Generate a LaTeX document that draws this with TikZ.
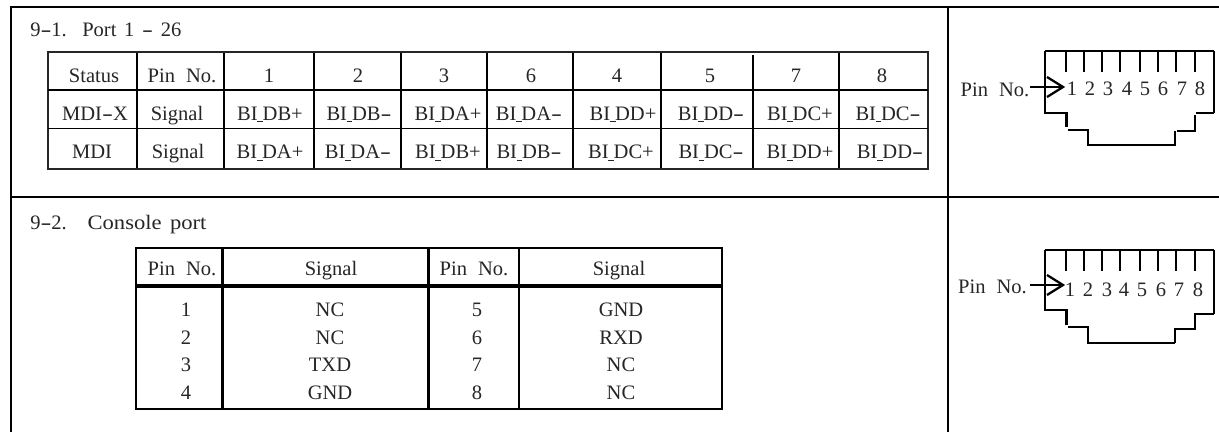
\documentclass[tikz,border=0pt]{standalone}
\usepackage{fontspec}
\setmainfont[WordSpace=1.5]{Liberation Serif}
\tikzset{
  px/.style={x=0.75pt,y=-0.75pt},
  thin line/.style={line width=0.75pt,black!85},
  med line/.style={line width=1.1pt,black},
  thick line/.style={line width=1.7pt,black},
  heavy line/.style={line width=3pt,black},
  txt/.style={inner sep=0pt,font=\fontsize{15.4pt}{17pt}\selectfont,text=black!85},
  ctxt/.style={txt,anchor=base},
  ltxt/.style={txt,anchor=base west},
}
\newcommand{\hy}{\scalebox{1.6}[1]{-}}
\newcommand{\biu}{\kern-0.02em\rule[-1.5pt]{0.28em}{0.5pt}\kern-0.02em}
\newcommand{\pn}{Pin \hspace{2.5pt}No.}
\begin{document}
\begin{tikzpicture}[px]
\useasboundingbox (0,0) rectangle (1219,432);
\fill[white] (0,0) rectangle (1219,432);
% frame
\draw[thick line,line width=1.1pt] (1219,7) -- (11,7) -- (11,432);
\draw[med line] (11,197) -- (1219,197);
\draw[thick line] (948,7) -- (948,432);
% titles
\node[ltxt] (t1) at (30,36.5) {9\hy1.\ \ Port 1 \hy\ 26};
\node[ltxt] (t2) at (30,229) {9\hy2.\ \ \hspace{4pt}\scalebox{1.1}[1]{Console port}};
% table 1
\draw[thin line,line width=0.9pt] (48,52) rectangle (928,169);
\draw[thick line] (48,90) -- (928,90);
\draw[med line] (48,128.5) -- (928,128.5);
\foreach \x in {137,314,401,487,573,661,839}{\draw[thick line] (\x,53) -- (\x,168);}
\draw[med line] (224,53) -- (224,168);
\draw[thick line] (753,55) -- (753,168);
% rows of table 1
\foreach \n/\x/\s in {a/94/Status,b/182/\pn,c/269/1,d/358/2,e/444/3,f/531/6,g/617/4,h/710/5,i/796/7,j/882/8}{
  \node[ctxt] (h\n) at (\x,82.5) {\s};}
\node[ctxt] (r1a) at (95,120) {MDI\hy X};
\node[ctxt] (r1b) at (177,120) {Signal};
\node[ctxt] (r2a) at (92,158.5) {MDI};
\node[ctxt] (r2b) at (178,158.5) {Signal};
\foreach \n/\x/\s in {c/270/DB+,d/359/DB\hy,e/448/DA+,f/529/DA\hy,g/623/DD+,h/711/DD\hy,i/800/DC+,j/888/DC\hy}{
  \node[ctxt] (p\n) at (\x,120) {BI\biu\s};}
\foreach \n/\x/\s in {c/270/DA+,d/358/DA\hy,e/448/DB+,f/529/DB\hy,g/621/DC+,h/711/DC\hy,i/800/DD+,j/890/DD\hy}{
  \node[ctxt] (q\n) at (\x,158.5) {BI\biu\s};}
% table 2
\draw[thick line] (136,248) rectangle (722,409);
\draw[heavy line] (136,286) -- (722,286);
\draw[thick line] (222.5,248) -- (222.5,409);
\draw[heavy line,line width=2.2pt] (428.5,248) -- (428.5,409);
\draw[thick line] (519,248) -- (519,409);
\node[ctxt] (a1) at (182,275) {\pn};
\node[ctxt] (a2) at (331,275) {Signal};
\node[ctxt] (a3) at (474,275) {\pn};
\node[ctxt] (a4) at (619,275) {Signal};
\foreach \n/\y/\a/\b/\c/\d in {1/316.5/1/NC/5/GND,2/344/2/NC/6/RXD,3/371.5/3/TXD/7/NC,4/399/4/GND/8/NC}{
  \node[ctxt] (c\n a) at (186,\y) {\a};
  \node[ctxt] (c\n b) at (330,\y) {\b};
  \node[ctxt] (c\n c) at (477,\y) {\c};
  \node[ctxt] (c\n d) at (621,\y) {\d};
}
% connector 1
\node[ctxt] (pn1) at (995,96.5) {\pn};
\draw[thick line] (1045,51) -- (1214,51);
\draw[thick line] (1045,51) -- (1045,113) -- (1066.5,113) -- (1066.5,127);
\draw[med line] (1068,130) -- (1088,130) -- (1088,145) -- (1175,145) -- (1175,131);
\draw[thick line] (1177,131) -- (1195,131) -- (1195,115);
\draw[med line] (1196,113) -- (1214,113);
\draw[line width=0.9pt] (1214,51) -- (1214,113);
\foreach \n/\x/\w in {1/1066/1.9,2/1084/1.1,3/1102/1.1,4/1120/1.9,5/1140/1.1,6/1158/1.1,7/1176/1.9,8/1195/1.1}{
  \draw[line width=\w pt] (\x,52) -- (\x,72);}
\coordinate (tip1) at (1063,87);
\coordinate (s1) at (1030,87);
\draw[med line] (s1) -- (tip1);
\draw[thick line,line join=miter] (1047,77) -- (tip1) -- (1047,97);
\foreach \n/\x in {1/1072,2/1090,3/1108,4/1127,5/1145,6/1163,7/1182,8/1200}{
  \node[ctxt] (u\n) at (\x,95) {\n};}
% connector 2
\node[ctxt] (pn2) at (992.5,293) {\pn};
\draw[med line] (1045,250) -- (1214,250);
\draw[thick line] (1045,250) -- (1045,310) -- (1066.5,310) -- (1066.5,325);
\draw[thick line] (1068,327) -- (1088,327) -- (1088,343) -- (1175,343);
\draw[med line] (1175,343) -- (1175,329) -- (1195,329) -- (1195,314) -- (1214,314);
\draw[line width=0.9pt] (1214,250) -- (1214,314);
\foreach \n/\x/\w in {1/1066/1.9,2/1084/1.1,3/1102/1.1,4/1120/1.9,5/1140/1.1,6/1158/1.1,7/1176/1.9,8/1195/1.1}{
  \draw[line width=\w pt] (\x,251) -- (\x,271);}
\coordinate (tip2) at (1063,285);
\coordinate (s2) at (1030,285);
\draw[med line] (s2) -- (tip2);
\draw[thick line,line join=miter] (1047,275) -- (tip2) -- (1047,295);
\foreach \n/\x in {1/1070,2/1088,3/1107,4/1124,5/1142,6/1161,7/1179,8/1198}{
  \node[ctxt] (v\n) at (\x,296.5) {\n};}
\end{tikzpicture}
\end{document}
